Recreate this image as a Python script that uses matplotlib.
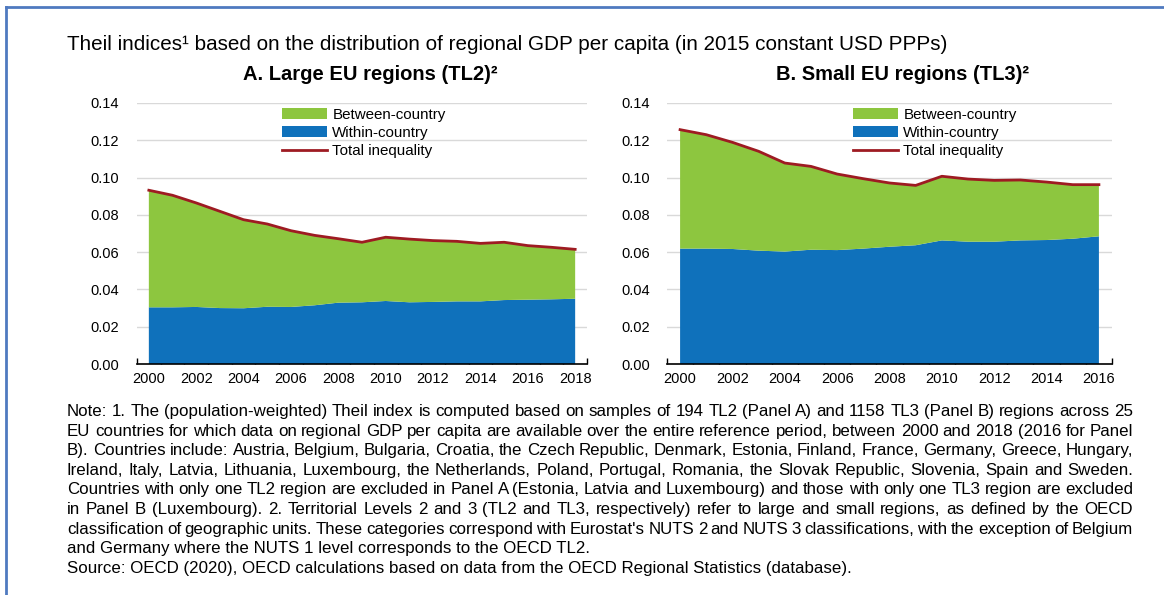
import matplotlib
matplotlib.use("Agg")
import matplotlib.pyplot as plt
from matplotlib.lines import Line2D

plt.rcParams['font.family'] = ['Liberation Sans', 'DejaVu Sans']

# ── DONNEES ────────────────────────────────────────────────
years_a = [2000, 2001, 2002, 2003, 2004, 2005, 2006, 2007, 2008, 2009,
           2010, 2011, 2012, 2013, 2014, 2015, 2016, 2017, 2018]
total_a = [0.0932, 0.0905, 0.0864, 0.0819, 0.0774, 0.0751, 0.0715, 0.0690, 0.0672, 0.0653,
           0.0680, 0.0670, 0.0662, 0.0658, 0.0647, 0.0653, 0.0635, 0.0626, 0.0615]
within_a = [0.0304, 0.0304, 0.0306, 0.0300, 0.0299, 0.0307, 0.0306, 0.0315, 0.0329, 0.0331,
            0.0338, 0.0331, 0.0333, 0.0336, 0.0336, 0.0343, 0.0345, 0.0347, 0.0350]

years_b = [2000, 2001, 2002, 2003, 2004, 2005, 2006, 2007, 2008,
           2009, 2010, 2011, 2012, 2013, 2014, 2015, 2016]
total_b = [0.1257, 0.1230, 0.1189, 0.1141, 0.1078, 0.1060, 0.1019, 0.0994, 0.0971,
           0.0958, 0.1007, 0.0992, 0.0985, 0.0987, 0.0976, 0.0962, 0.0962]
within_b = [0.0619, 0.0619, 0.0617, 0.0608, 0.0603, 0.0613, 0.0611, 0.0619, 0.0629,
            0.0637, 0.0663, 0.0656, 0.0656, 0.0663, 0.0665, 0.0672, 0.0685]

y_ticks = [0.00, 0.02, 0.04, 0.06, 0.08, 0.10, 0.12, 0.14]
labels = ['Between-country', 'Within-country', 'Total inequality']

titre = "Theil indices¹ based on the distribution of regional GDP per capita (in 2015 constant USD PPPs)"
titre_a = "A. Large EU regions (TL2)²"
titre_b = "B. Small EU regions (TL3)²"

note = [
    "Note: 1. The (population-weighted) Theil index is computed based on samples of 194 TL2 (Panel A) and 1158 TL3 (Panel B) regions across 25",
    "EU countries for which data on regional GDP per capita are available over the entire reference period, between 2000 and 2018 (2016 for Panel",
    "B). Countries include: Austria, Belgium, Bulgaria, Croatia, the Czech Republic, Denmark, Estonia, Finland, France, Germany, Greece, Hungary,",
    "Ireland, Italy, Latvia, Lithuania, Luxembourg, the Netherlands, Poland, Portugal, Romania, the Slovak Republic, Slovenia, Spain and Sweden.",
    "Countries with only one TL2 region are excluded in Panel A (Estonia, Latvia and Luxembourg) and those with only one TL3 region are excluded",
    "in Panel B (Luxembourg). 2. Territorial Levels 2 and 3 (TL2 and TL3, respectively) refer to large and small regions, as defined by the OECD",
    "classification of geographic units. These categories correspond with Eurostat's NUTS 2 and NUTS 3 classifications, with the exception of Belgium",
    "and Germany where the NUTS 1 level corresponds to the OECD TL2.",
    "Source: OECD (2020), OECD calculations based on data from the OECD Regional Statistics (database).",
]
# ───────────────────────────────────────────────────────────

VERT = '#8dc63f'
BLEU = '#0f71bb'
ROUGE = '#9e1b22'

W, H = 1164, 595
fig = plt.figure(figsize=(W / 100, H / 100), dpi=100)


def panneau(rect, years, total, within, leg_x, lab_pad):
    ax = fig.add_axes(rect)
    between = [t - w for t, w in zip(total, within)]
    ax.stackplot(years, within, between, colors=[BLEU, VERT], labels=labels[1::-1], zorder=2)
    ax.plot(years, total, color=ROUGE, lw=2, label=labels[2], zorder=3)
    ax.set_xlim(years[0] - 0.5, years[-1] + 0.5)
    ax.set_ylim(0, 0.14)
    ax.set_yticks(y_ticks)
    ax.set_yticklabels([f"{v:.2f}" for v in y_ticks])
    ax.set_xticks(years[::2])
    ax.set_xticks([y - 0.5 for y in years] + [years[-1] + 0.5], minor=True)
    ax.tick_params(axis='x', which='major', length=0, pad=6, labelsize=10.5)
    ax.tick_params(axis='x', which='minor', direction='in', length=4, width=1)
    ax.tick_params(axis='y', length=0, pad=lab_pad, labelsize=10.5)
    ax.grid(axis='y', color='#d9d9d9', lw=1, zorder=0)
    ax.set_axisbelow(True)
    for s in ['top', 'right', 'left']:
        ax.spines[s].set_visible(False)
    ax.spines['bottom'].set_linewidth(1.2)
    handles, labs = ax.get_legend_handles_labels()
    ordre = [1, 0, 2]
    ax.legend([handles[i] for i in ordre], [labs[i] for i in ordre],
              loc='upper left', bbox_to_anchor=(leg_x, 0.982), frameon=False,
              borderpad=0, borderaxespad=0, handlelength=3.0, handletextpad=0.33,
              labelspacing=0.28, fontsize=10.9)
    return ax


panneau([137 / W, 1 - 364 / H, 450 / W, 261 / H], years_a, total_a, within_a, 0.322, 13)
panneau([667 / W, 1 - 364 / H, 445 / W, 261 / H], years_b, total_b, within_b, 0.418, 12)

fig.text(67 / W, 1 - 45 / H, titre, fontsize=14.9, va='center', ha='left')
fig.text(370 / W, 1 - 74 / H, titre_a, fontsize=14.5, fontweight='bold', va='center', ha='center')
fig.text(902 / W, 1 - 74 / H, titre_b, fontsize=14.5, fontweight='bold', va='center', ha='center')

# Note justifiée : position de chaque mot = largeur du début de ligne + espace ajouté
renderer = fig.canvas.get_renderer()
x0, x1 = 67, 1133
taille_note = 12.2


def largeur(texte):
    t = fig.text(0, 0, texte, fontsize=taille_note)
    w = t.get_window_extent(renderer).width
    t.remove()
    return w


for i, ligne in enumerate(note):
    y = 1 - (416 + i * 19.6) / H   # ligne de base
    if i >= 7:
        fig.text(x0 / W, y, ligne, fontsize=taille_note, va='baseline', ha='left')
        continue
    mots = ligne.split(' ')
    extra = (x1 - x0 - largeur(ligne)) / (len(mots) - 1)
    for k, m in enumerate(mots):
        debut = ' '.join(mots[:k]) + ' ' if k else ''
        x = x0 + (largeur('|' + debut) - largeur('|') if k else 0) + k * extra
        fig.text(x / W, y, m, fontsize=taille_note, va='baseline', ha='left')

# cadre bleu
fig.add_artist(Line2D([6 / W, 6 / W], [0, 1 - 7 / H], color='#4f7ac0', lw=2))
fig.add_artist(Line2D([6 / W, 1], [1 - 7 / H, 1 - 7 / H], color='#4f7ac0', lw=2))

fig.savefig('out.png', dpi=100)
